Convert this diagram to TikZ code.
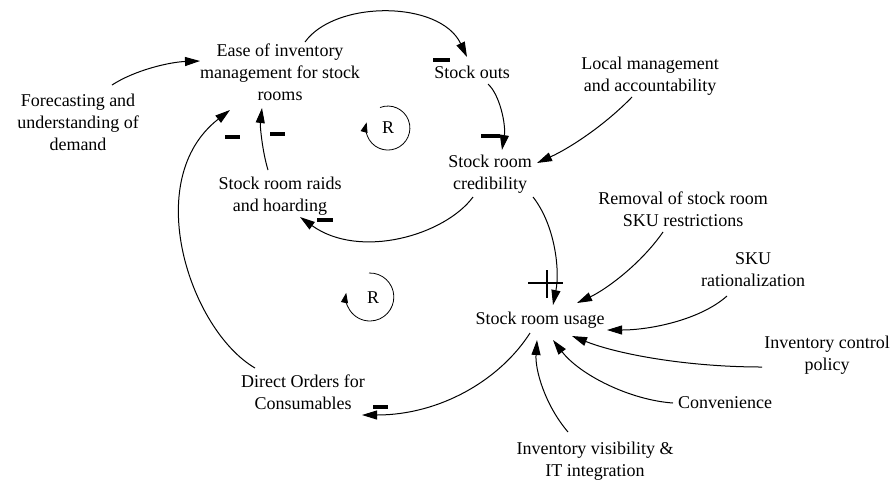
\documentclass[tikz,border=0pt]{standalone}
\usepackage{fontspec}
\setmainfont{Liberation Serif}
\newfontfamily\lblfont{Liberation Serif}
\usetikzlibrary{arrows.meta}
\begin{document}
\begin{tikzpicture}[x=1pt,y=-1pt,
  lbl/.style={align=center,inner sep=0pt,font=\lblfont\fontsize{18}{22}\selectfont},
  link/.style={line width=1pt,-{Triangle[length=15pt,width=9pt]}},
  polbar/.style={line width=4.5pt},
  loopc/.style={line width=0.8pt,-{Triangle[length=10pt,width=7pt]}}]
\useasboundingbox (0,0) rectangle (890,483);
% nodes
\node[lbl] (ease) at (280,72) {Ease of inventory\\management for stock\\rooms};
\node[lbl] (fc) at (78,122) {Forecasting and\\understanding of\\demand};
\node[lbl] (so) at (472,72) {Stock outs};
\node[lbl] (lm) at (650,76) {Local management\\and accountability};
\node[lbl] (cred) at (490,174) {Stock room\\credibility};
\node[lbl] (rem) at (683,209) {Removal of stock room\\SKU restrictions};
\node[lbl] (skur) at (753,270) {SKU\\rationalization};
\node[lbl] (usage) at (540,320) {Stock room usage};
\node[lbl] (icp) at (827,355) {Inventory control\\policy};
\node[lbl] (conv) at (725,403) {Convenience};
\node[lbl] (ivis) at (595,461) {Inventory visibility \&\\IT integration};
\node[lbl] (dir) at (303,392) {Direct Orders for\\Consumables};
\node[lbl] (raids) at (280,196) {Stock room raids\\and hoarding};
\node[lbl] (r1) at (388,128) {R};
\node[lbl] (r2) at (373,298) {R};
% loop markers
\draw[loopc] ([shift={(-8,-20.5)}]r1.center) arc[start angle=-111,end angle=195,radius=22];
\draw[loopc] ([shift={(-4,-25)}]r2.center) arc[start angle=-92,end angle=190,radius=24];
% connectors
\draw[link] ([shift={(34,-37)}]fc.center) .. controls (135,70) and (170,62) .. ([shift={(-80,-11)}]ease.center);
\draw[link] ([shift={(25,-30)}]ease.center) .. controls (335,0) and (440,0) .. ([shift={(-5,-15)}]so.center);
\draw[link] ([shift={(16,12)}]so.center) .. controls (500,95) and (506,125) .. ([shift={(12,-24)}]cred.center);
\draw[link] ([shift={(-18,21)}]lm.center) .. controls (605,125) and (570,148) .. ([shift={(47,-11)}]cred.center);
\draw[link] ([shift={(-17,23)}]cred.center) .. controls (445,235) and (360,260) .. ([shift={(20,21)}]raids.center);
\draw[link] ([shift={(-12,-26)}]raids.center) .. controls (262,150) and (260,125) .. ([shift={(-18,36)}]ease.center);
\draw[link] ([shift={(-48,-24)}]dir.center) .. controls (190,330) and (140,180) .. ([shift={(-50,38)}]ease.center);
\draw[link] ([shift={(43,23)}]cred.center) .. controls (555,225) and (560,270) .. ([shift={(13,-15)}]usage.center);
\draw[link] ([shift={(-20,23)}]rem.center) .. controls (640,265) and (605,290) .. ([shift={(37,-17)}]usage.center);
\draw[link] ([shift={(-26,26)}]skur.center) .. controls (700,320) and (650,330) .. ([shift={(67,10)}]usage.center);
\draw[link] ([shift={(-65,12)}]icp.center) .. controls (690,367) and (620,355) .. ([shift={(32,16)}]usage.center);
\draw[link] ([shift={(-52,0)}]conv.center) .. controls (630,400) and (580,375) .. ([shift={(13,20)}]usage.center);
\draw[link] ([shift={(-27,-29)}]ivis.center) .. controls (545,405) and (535,370) .. ([shift={(-3,20)}]usage.center);
\draw[link] ([shift={(-10,13)}]usage.center) .. controls (500,380) and (440,415) .. ([shift={(59,23)}]dir.center);
% polarity marks
\draw[polbar] (433,60) -- (450,60);
\draw[polbar] (481,136) -- (500,136);
\draw[polbar] (317,220) -- (333,220);
\draw[polbar] (270,134) -- (285,134);
\draw[polbar] (225,137) -- (240,137);
\draw[polbar] (373,407) -- (388,407);
\draw[line width=1.6pt] (528,283) -- (563,283) (547,270) -- (547,298);
\end{tikzpicture}
\end{document}
